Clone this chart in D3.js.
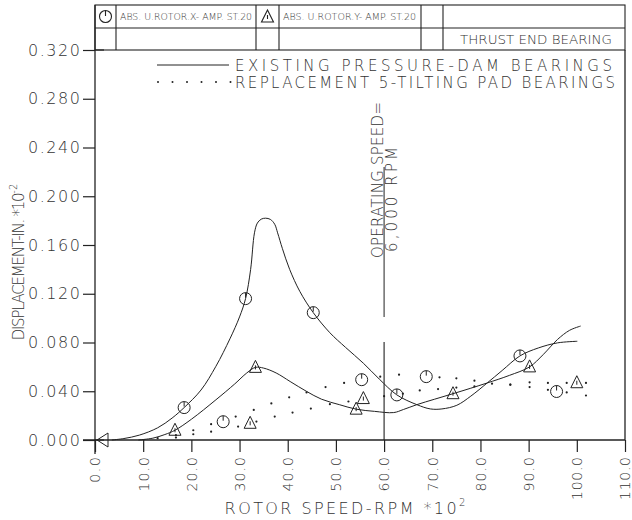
<!DOCTYPE html>
<html><head><meta charset="utf-8">
<script src="https://cdn.jsdelivr.net/npm/d3@7"></script>
<style>
body{margin:0;background:#fff}
svg{display:block}
text{font-family:"DejaVu Sans",sans-serif;fill:#333;font-weight:200}
</style></head><body>
<svg id="c" width="632" height="520"></svg>
<script>
// ---- data ----
const xTicks=[0,10,20,30,40,50,60,70,80,90,100,110];
const xTickLabels=["0.0","10.0","20.0","30.0","40.0","50.0","60.0","70.0","80.0","90.0","100.0","110.0"];
const yTicks=[0,0.04,0.08,0.12,0.16,0.2,0.24,0.28,0.32];
const yTickLabels=["0.000","0.040","0.080","0.120","0.160","0.200","0.240","0.280","0.320"];
// existing pressure-dam bearings, X amplitude (circle markers)
const existX=[[3.5,0],[6,0.0012],[9.2,0.004],[13,0.010],[16,0.018],[18.5,0.0266],[22,0.041],[25.1,0.0605],[28,0.083],[30,0.101],[31.25,0.116],[32.3,0.140],[33.1,0.170],[33.7,0.178],[34.5,0.1812],[35.4,0.182],[36.4,0.181],[37.3,0.177],[37.9,0.170],[38.9,0.157],[40.4,0.140],[42.5,0.122],[45.3,0.1045],[48.75,0.088],[52,0.076],[55.7,0.063],[59,0.050],[62.65,0.037],[66.8,0.029],[69.6,0.0255],[72,0.0255],[75.1,0.0285],[78,0.036],[81.4,0.0468],[84.5,0.057],[88.2,0.069],[92,0.0755],[96,0.0797],[100.1,0.081]];
const existXMarks=[[18.5,0.0266],[31.25,0.116],[45.3,0.1045],[62.65,0.037],[88.2,0.069]];
// existing pressure-dam bearings, Y amplitude (triangle markers)
const existY=[[9,0],[12,0.0015],[14.5,0.0045],[16.6,0.008],[20,0.017],[25.1,0.033],[29,0.046],[31.5,0.055],[33.3,0.0596],[35,0.059],[37.6,0.055],[40.5,0.048],[43.9,0.0399],[47,0.0335],[50.8,0.0289],[54.2,0.0253],[58,0.0235],[62,0.0225],[64,0.025],[66.8,0.029],[70.5,0.0335],[74.3,0.038],[78,0.0425],[81.4,0.0468],[86,0.053],[90.2,0.060],[93,0.070],[96,0.0825],[98.5,0.090],[100.8,0.0935]];
const existYMarks=[[16.6,0.008],[33.3,0.0596],[54.2,0.0253],[74.3,0.038],[90.2,0.060]];
// replacement 5-tilting pad bearings (dotted)
const tiltX=[[13,0.0015],[16.8,0.004],[20.4,0.008],[24.1,0.013],[29.2,0.0192],[32.95,0.0247],[36.6,0.030],[40.3,0.035],[43.9,0.039],[47.85,0.0434],[51.7,0.0468],[59.2,0.052],[63.1,0.0536],[71.5,0.0514],[75,0.0506],[78.75,0.0487],[82.4,0.0462],[86.2,0.0454],[90.2,0.0434],[94,0.0412],[97.9,0.039],[101.9,0.0365]];
const tiltXMarks=[[26.6,0.015],[55.35,0.0495],[68.75,0.052],[95.8,0.0398]];
const tiltY=[[16.8,0.002],[20.4,0.0047],[24.1,0.0068],[29.7,0.011],[33.5,0.0151],[37.3,0.0192],[41,0.0225],[44.8,0.0258],[48.75,0.0294],[52.6,0.0316],[60,0.036],[63.9,0.038],[67.4,0.0407],[71.2,0.0418],[75,0.043],[78.75,0.044],[86.2,0.0454],[90.2,0.0473],[94,0.0468],[97.9,0.0468],[101.9,0.0468]];
const tiltYMarks=[[32.2,0.0137],[55.7,0.034],[100,0.047]];
const originMark=[[0,0]];
const operatingSpeed=60;
const legendLabels=["EXISTING PRESSURE-DAM BEARINGS","REPLACEMENT 5-TILTING PAD BEARINGS"];
const headerLabels=["ABS. U.ROTOR.X- AMP. ST.20","ABS. U.ROTOR.Y- AMP. ST.20","THRUST END BEARING"];

// ---- drawing ----
const svg=d3.select("#c");
const L=95,R=625,T=50,B=440;
const x=d3.scaleLinear().domain([0,110]).range([L,R]);
const y=d3.scaleLinear().domain([0,0.32]).range([B,T]);
const ink="#222";

// header table
const g0=svg.append("g").attr("stroke",ink).attr("stroke-width",1.1).attr("fill","none");
const tTop=5,tMid=28;
g0.append("rect").attr("x",L).attr("y",tTop).attr("width",R-L).attr("height",T-tTop);
g0.append("line").attr("x1",L).attr("x2",R).attr("y1",tMid).attr("y2",tMid);
[116,256,279,421,443].forEach(cx=>g0.append("line").attr("x1",cx).attr("x2",cx).attr("y1",tTop).attr("y2",T));
// header symbols
g0.append("circle").attr("cx",105.5).attr("cy",16.5).attr("r",6);
g0.append("line").attr("x1",105.5).attr("x2",105.5).attr("y1",10.5).attr("y2",16);
g0.append("path").attr("d","M267.5,10 L261.5,22 L273.5,22 Z");
g0.append("line").attr("x1",267.5).attr("x2",267.5).attr("y1",15).attr("y2",19);
svg.append("text").attr("x",120).attr("y",20).attr("font-size",8).attr("textLength",132).attr("lengthAdjust","spacingAndGlyphs").text(headerLabels[0]);
svg.append("text").attr("x",283).attr("y",20).attr("font-size",8).attr("textLength",133).attr("lengthAdjust","spacingAndGlyphs").text(headerLabels[1]);
svg.append("text").attr("x",460).attr("y",44).attr("font-size",13).attr("textLength",152).attr("lengthAdjust","spacingAndGlyphs").text(headerLabels[2]);

// frame right edge
svg.append("line").attr("x1",R).attr("x2",R).attr("y1",T).attr("y2",B).attr("stroke",ink).attr("stroke-width",1.3);

// y axis
const ya=svg.append("g").attr("transform",`translate(${L},0)`)
  .call(d3.axisLeft(y).tickValues(yTicks).tickSize(12).tickPadding(3).tickFormat((d,i)=>yTickLabels[i]));
ya.select(".domain").attr("stroke",ink).attr("stroke-width",1.3).attr("d",`M0,${T-45}V${B+14}`);
ya.selectAll(".tick line").attr("stroke",ink).attr("stroke-width",1.2);
ya.selectAll(".tick text").attr("font-size",16).attr("font-family","DejaVu Sans").attr("font-weight",200).attr("fill","#333").attr("textLength",52).attr("lengthAdjust","spacing");
// crosses at ends
[0,0.32].forEach(v=>svg.append("line").attr("x1",L).attr("x2",L+9).attr("y1",y(v)).attr("y2",y(v)).attr("stroke",ink).attr("stroke-width",1.2));

// x axis
const xa=svg.append("g").attr("transform",`translate(0,${B})`)
  .call(d3.axisBottom(x).tickValues(xTicks).tickSize(12).tickFormat((d,i)=>xTickLabels[i]));
xa.select(".domain").attr("stroke",ink).attr("stroke-width",1.3).attr("d",`M${L-12},0H${R}`);
xa.selectAll(".tick line").attr("stroke",ink).attr("stroke-width",1.2);
xa.selectAll(".tick text").attr("font-size",14).attr("font-family","DejaVu Sans").attr("font-weight",200).attr("fill","#333")
  .attr("transform","rotate(-90)").attr("x",-17).attr("y",0).attr("dy","0.35em").attr("text-anchor","end")
  .attr("textLength",(d,i)=>xTickLabels[i].length*8.6).attr("lengthAdjust","spacing");

// axis titles
const yt=svg.append("text").attr("transform","translate(24,262) rotate(-90)").attr("text-anchor","middle").attr("font-size",15);
yt.append("tspan").attr("textLength",148).attr("lengthAdjust","spacing").text("DISPLACEMENT-IN.  *10");
yt.append("tspan").attr("font-size",10).attr("dy",-7).text("-2");
const xt=svg.append("text").attr("x",345).attr("y",514).attr("text-anchor","middle").attr("font-size",16);
xt.append("tspan").attr("textLength",232).attr("lengthAdjust","spacing").text("ROTOR  SPEED-RPM  *10");
xt.append("tspan").attr("font-size",10).attr("dy",-8).text("2");

// legend
svg.append("line").attr("x1",157).attr("x2",229).attr("y1",65).attr("y2",65).attr("stroke",ink).attr("stroke-width",1);
svg.append("text").attr("x",235).attr("y",71).attr("font-size",15).attr("textLength",377).attr("lengthAdjust","spacing").text(legendLabels[0]);
svg.selectAll(".ldot").data(d3.range(6)).join("circle").attr("cx",i=>158+i*14.5).attr("cy",82).attr("r",1).attr("fill",ink);
svg.append("text").attr("x",235).attr("y",88).attr("font-size",15).attr("textLength",380).attr("lengthAdjust","spacing").text(legendLabels[1]);

// operating speed annotation
const ox=x(operatingSpeed);
svg.append("line").attr("x1",ox).attr("x2",ox).attr("y1",167).attr("y2",317).attr("stroke",ink).attr("stroke-width",1);
svg.append("line").attr("x1",ox).attr("x2",ox).attr("y1",342).attr("y2",B).attr("stroke",ink).attr("stroke-width",1.1);
svg.append("text").attr("transform",`translate(${ox-1.5},258) rotate(-90)`).attr("font-size",15).attr("textLength",156).attr("lengthAdjust","spacing").text("OPERATING  SPEED=");
svg.append("text").attr("transform",`translate(${ox+13},252) rotate(-90)`).attr("font-size",15).attr("textLength",105).attr("lengthAdjust","spacing").text("6,000  RPM");

// curves
const line=d3.line().x(d=>x(d[0])).y(d=>y(d[1])).curve(d3.curveCatmullRom.alpha(0.5));
[existX,existY].forEach(s=>svg.append("path").attr("d",line(s)).attr("fill","none").attr("stroke",ink).attr("stroke-width",1));

// dotted series
[tiltX,tiltY].forEach(s=>svg.append("g").selectAll("circle").data(s).join("circle")
  .attr("cx",d=>x(d[0])).attr("cy",d=>y(d[1])).attr("r",1.1).attr("fill",ink));

// markers
function circles(data){
  const g=svg.append("g").attr("fill","none").attr("stroke",ink).attr("stroke-width",1);
  g.selectAll("circle").data(data).join("circle").attr("cx",d=>x(d[0])).attr("cy",d=>y(d[1])).attr("r",6);
  g.selectAll("line").data(data).join("line").attr("x1",d=>x(d[0])).attr("x2",d=>x(d[0])).attr("y1",d=>y(d[1])-6).attr("y2",d=>y(d[1])-1);
}
function triangles(data){
  const g=svg.append("g").attr("fill","none").attr("stroke",ink).attr("stroke-width",1);
  g.selectAll("path").data(data).join("path").attr("d",d=>{const cx=x(d[0]),cy=y(d[1]);return `M${cx},${cy-7}L${cx-6},${cy+5}L${cx+6},${cy+5}Z`;});
  g.selectAll("line").data(data).join("line").attr("x1",d=>x(d[0])).attr("x2",d=>x(d[0])).attr("y1",d=>y(d[1])-2).attr("y2",d=>y(d[1])+2);
}
circles(existXMarks);circles(tiltXMarks);
triangles(existYMarks);triangles(tiltYMarks);
svg.append("g").selectAll("path").data(originMark).join("path")
  .attr("d",d=>{const cx=x(d[0]),cy=y(d[1]);return `M${cx+2},${cy}L${cx+13},${cy-7}L${cx+13},${cy+7}Z`;})
  .attr("fill","none").attr("stroke",ink).attr("stroke-width",1);
</script>
</body></html>
